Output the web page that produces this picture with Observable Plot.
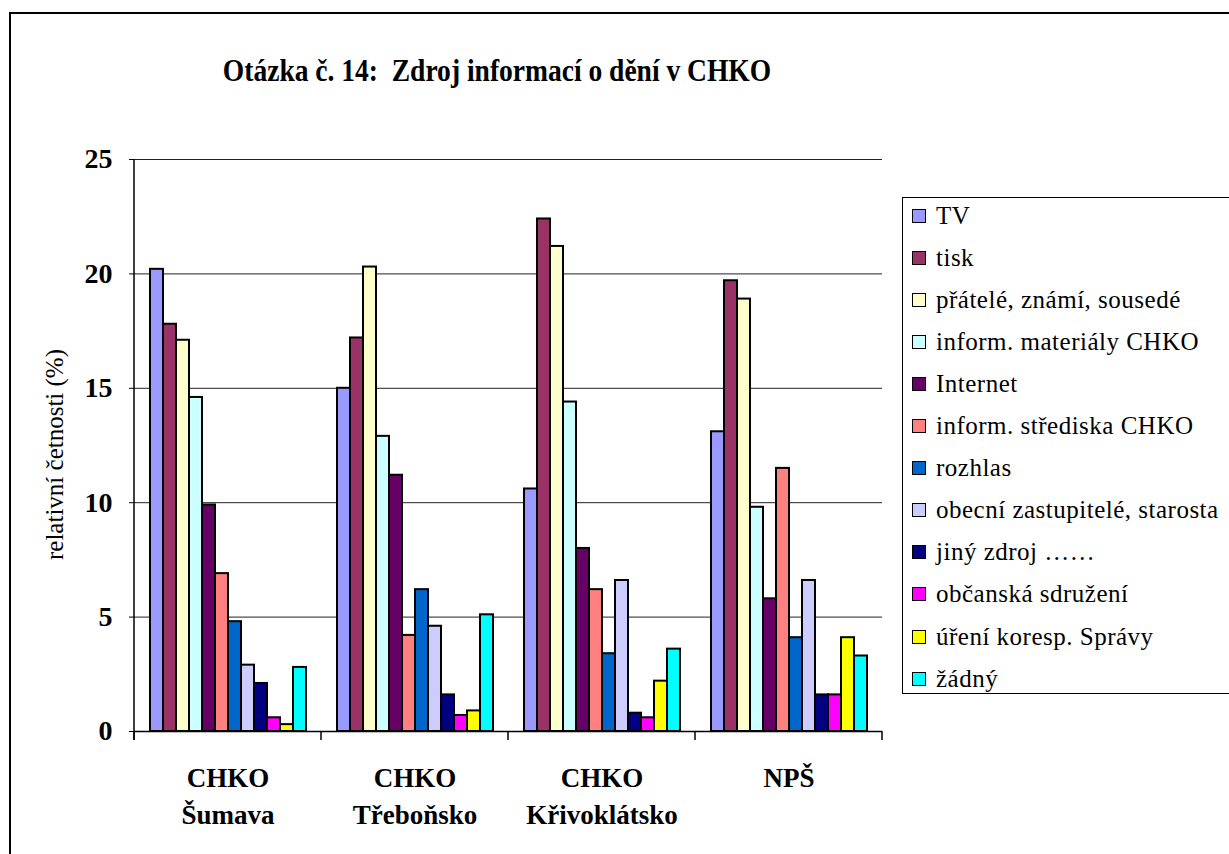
<!DOCTYPE html>
<html>
<head>
<meta charset="utf-8">
<script src="https://cdn.jsdelivr.net/npm/d3@7"></script>
<script src="https://cdn.jsdelivr.net/npm/@observablehq/plot@0.6"></script>
<style>
  html, body { margin: 0; padding: 0; width: 1229px; height: 854px; overflow: hidden; background: #fff; }
  body { position: relative; font-family: "Liberation Serif", "DejaVu Serif", "Noto Serif", serif; color: #000; }
  #frame { position: absolute; left: 9px; top: 12px; width: 1400px; height: 1000px; border-top: 2px solid #000; border-left: 2px solid #000; }
  #title { position: absolute; left: 10px; width: 974px; top: 54px; text-align: center; font-weight: bold; font-size: 32px; line-height: 32px; white-space: pre; transform: scaleX(0.86); transform-origin: 487px 0; }
  #chart { position: absolute; left: 0; top: 130px; }
  #legend { position: absolute; left: 902px; top: 197px; width: 400px; height: 497px; border: 1.5px solid #000; box-sizing: border-box; }
  .row { position: absolute; left: 9px; height: 42px; display: flex; align-items: center; font-size: 25px; letter-spacing: 0.5px; white-space: nowrap; }
  .sw { width: 12px; height: 12px; border: 1.5px solid #000; margin-right: 10px; flex: none; }
</style>
</head>
<body>
<div id="frame"></div>
<div id="title"></div>
<div id="chart"></div>
<div id="legend"></div>
<script>
const titleText = "Otázka č. 14:  Zdroj informací o dění v CHKO";
const yLabel = "relativní četnosti (%)";
const groups = ["CHKO Šumava", "CHKO Třeboňsko", "CHKO Křivoklátsko", "NPŠ"];
const groupLines = ["CHKO\nŠumava", "CHKO\nTřeboňsko", "CHKO\nKřivoklátsko", "NPŠ"];
const series = ["TV", "tisk", "přátelé, známí, sousedé", "inform. materiály CHKO", "Internet",
  "inform. střediska CHKO", "rozhlas", "obecní zastupitelé, starosta", "jiný zdroj ……",
  "občanská sdružení", "úření koresp. Správy", "žádný"];
const colors = ["#9999FF", "#993366", "#FFFFCC", "#CCFFFF", "#660066", "#FF8080",
  "#0066CC", "#CCCCFF", "#000080", "#FF00FF", "#FFFF00", "#00FFFF"];
const sumava       = [20.2, 17.8, 17.1, 14.6, 9.9, 6.9, 4.8, 2.9, 2.1, 0.6, 0.3, 2.8];
const trebonsko    = [15.0, 17.2, 20.3, 12.9, 11.2, 4.2, 6.2, 4.6, 1.6, 0.7, 0.9, 5.1];
const krivoklatsko = [10.6, 22.4, 21.2, 14.4, 8.0, 6.2, 3.4, 6.6, 0.8, 0.6, 2.2, 3.6];
const nps          = [13.1, 19.7, 18.9, 9.8, 5.8, 11.5, 4.1, 6.6, 1.6, 1.6, 4.1, 3.3];
const yTicks = [0, 5, 10, 15, 20, 25];

const valuesByGroup = [sumava, trebonsko, krivoklatsko, nps];
const data = groups.flatMap((g, gi) => series.map((s, si) => ({group: g, series: s, value: valuesByGroup[gi][si]})));

document.getElementById("title").textContent = titleText;

const plot = Plot.plot({
  width: 900, height: 724,
  marginLeft: 133, marginRight: 18, marginTop: 29, marginBottom: 123,
  style: {fontFamily: "'Liberation Serif', 'DejaVu Serif', 'Noto Serif', serif", color: "#000", background: "transparent", overflow: "visible"},
  fx: {domain: groups, padding: 0, axis: null},
  x: {domain: series, paddingInner: 0, paddingOuter: 0.69, axis: null},
  y: {domain: [0, 25], axis: null},
  color: {domain: series, range: colors},
  marks: [
    Plot.ruleY(yTicks.filter(d => d > 0), {stroke: "#222", strokeWidth: 1}),
    Plot.barY(data, {fx: "group", x: "series", y: "value", fill: "series", stroke: "#000", strokeWidth: 2}),
    Plot.ruleY([0], {stroke: "#000", strokeWidth: 1.5}),
    Plot.axisY({ticks: yTicks, tickSize: 5, tickPadding: 17, fontSize: 28, fontWeight: "bold", label: null, stroke: "#000"}),
    Plot.text([groups[0]], {fx: d => d, text: () => yLabel, frameAnchor: "left", rotate: -90, dx: -80, dy: 9, fontSize: 25, letterSpacing: 3, textAnchor: "middle"}),
    Plot.text(groups, {fx: d => d, text: (d, i) => groupLines[i], frameAnchor: "bottom", lineAnchor: "top", dy: 29, lineHeight: 1.37, fontSize: 27, fontWeight: "bold"})
  ]
});
document.getElementById("chart").appendChild(plot);

// boundary ticks and vertical axis line derived from the plot's own scales
const fxs = plot.scale("fx"), ys = plot.scale("y");
const starts = groups.map(g => fxs.apply(g));
const bounds = starts.concat([starts[starts.length - 1] + fxs.bandwidth]);
const y0 = ys.apply(0), yTop = ys.apply(25);
const g = d3.select(plot).append("g").attr("stroke", "#000").attr("stroke-width", 1.5);
g.selectAll("line.t").data(bounds).join("line").attr("class", "t")
  .attr("x1", d => d).attr("x2", d => d).attr("y1", y0).attr("y2", y0 + 9);
g.append("line").attr("x1", bounds[0]).attr("x2", bounds[0]).attr("y1", yTop).attr("y2", y0 + 9);

// legend
const legend = document.getElementById("legend");
series.forEach((s, i) => {
  const row = document.createElement("div");
  row.className = "row";
  row.style.top = (i * 42.1 - 3.5) + "px";
  const sw = document.createElement("span");
  sw.className = "sw";
  sw.style.background = colors[i];
  const t = document.createElement("span");
  t.textContent = s;
  row.appendChild(sw); row.appendChild(t);
  legend.appendChild(row);
});
</script>
</body>
</html>
